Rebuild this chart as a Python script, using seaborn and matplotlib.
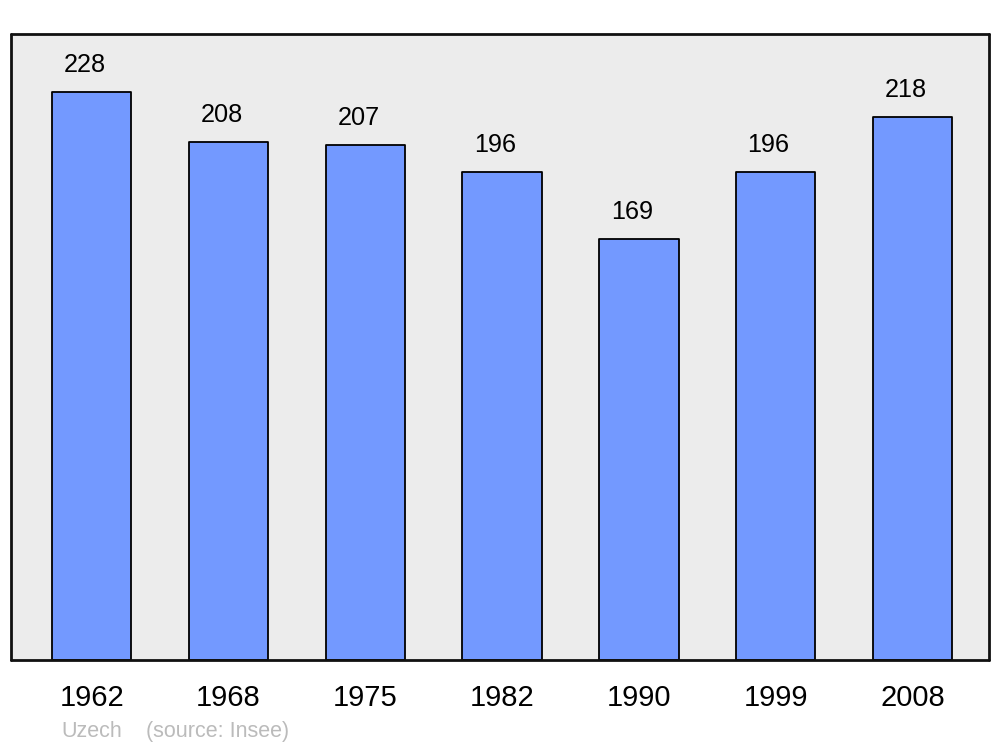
import matplotlib
matplotlib.use("Agg")
import matplotlib.pyplot as plt
import seaborn as sns
import pandas as pd

# population per census year
years = ["1962", "1968", "1975", "1982", "1990", "1999", "2008"]
population = [228, 208, 207, 196, 169, 196, 218]

df = pd.DataFrame({"year": years, "pop": population})

sns.set_style("white", {"axes.facecolor": "#ececec"})
plt.rcParams["font.family"] = ["Liberation Sans", "DejaVu Sans"]
plt.rcParams["text.color"] = "black"
plt.rcParams["xtick.color"] = "black"

fig = plt.figure(figsize=(10, 7.47), dpi=100)
ax = fig.add_axes([0.011, 1 - 660 / 747, 0.978, 626 / 747])

sns.barplot(data=df, x="year", y="pop", color="#7399ff", saturation=1,
            edgecolor="black", linewidth=1.3, width=0.58, ax=ax)
for bar in ax.patches:
    bar.set_joinstyle("round")

# value labels above bars
for i, v in enumerate(population):
    ax.annotate(str(v), (i, v), xytext=(-5, 14.5), textcoords="offset points",
                ha="center", va="baseline", fontsize=18.2, color="black")

ax.set_xlim(-0.59, 6.56)
ax.set_ylim(0, 251.5)
ax.set_xlabel("")
ax.set_ylabel("")
ax.set_yticks([])
ax.tick_params(axis="x", length=0, pad=17, labelsize=21, labelcolor="black")
for s in ax.spines.values():
    s.set_visible(True)
    s.set_linewidth(2)
    s.set_color("#111111")
    s.set_capstyle("round")

fig.text(0.061, 1 - 737 / 747, "Uzech", color="#bbbbbb", fontsize=15.5, va="baseline")
fig.text(0.146, 1 - 737 / 747, "(source: Insee)", color="#bbbbbb", fontsize=15.5, va="baseline")

fig.savefig("out.png", dpi=100)
